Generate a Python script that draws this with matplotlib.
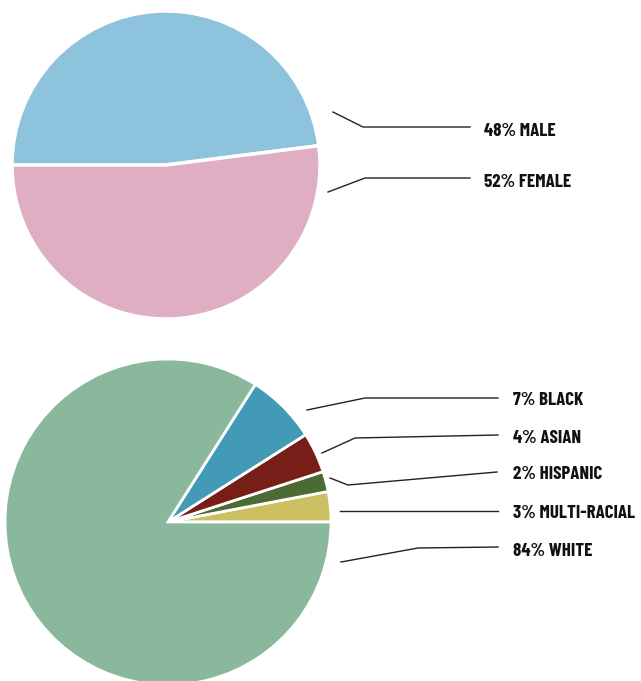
import matplotlib
matplotlib.use("Agg")
import matplotlib.pyplot as plt

W, H = 641, 681

# gender split
gender_labels = ["MALE", "FEMALE"]
gender_values = [48, 52]
gender_colors = ["#8dc3dc", "#e0aec3"]

# race split, counter-clockwise from 3 o'clock
race_labels = ["MULTI-RACIAL", "HISPANIC", "ASIAN", "BLACK", "WHITE"]
race_values = [3, 2, 4, 7, 84]
race_colors = ["#cbbf62", "#4b6a34", "#771e19", "#429ab7", "#8ab89c"]

font = {"family": ["Barlow Condensed", "DejaVu Sans"], "weight": "bold", "size": 13.6}


def flip(pts):
    # pixel coords (top-left origin) -> axes data coords
    return [p[0] for p in pts], [H - p[1] for p in pts]


fig = plt.figure(figsize=(W / 100, H / 100), dpi=100)
ax = fig.add_axes([0, 0, 1, 1])

ax.pie(gender_values, colors=gender_colors, startangle=180, counterclock=False,
       center=(166, H - 165), radius=154,
       wedgeprops={"edgecolor": "white", "linewidth": 2.5})
ax.pie(race_values, colors=race_colors, startangle=0, counterclock=True,
       center=(168, H - 522), radius=163,
       wedgeprops={"edgecolor": "white", "linewidth": 2})

# leader lines + labels (layout only)
gender_lines = [[(333, 112), (363, 127), (470, 127)],
                [(328, 192), (365, 178), (470, 178)]]
gender_base = [136, 187]
for lab, val, pts, yb in zip(gender_labels, gender_values, gender_lines, gender_base):
    xs, ys = flip(pts)
    ax.plot(xs, ys, color="#222222", lw=1)
    ax.text(484, H - yb, "%d%% %s" % (val, lab), ha="left", va="baseline", color="#111111", **font)

race_lines = [[(340, 511), (498, 511)],
              [(330, 478), (348, 485), (497, 472)],
              [(322, 453), (355, 438), (498, 435)],
              [(307, 410), (365, 398), (498, 398)],
              [(341, 562), (418, 548), (498, 547)]]
race_base = [518, 479, 443, 405, 556]
for lab, val, pts, yb in zip(race_labels, race_values, race_lines, race_base):
    xs, ys = flip(pts)
    ax.plot(xs, ys, color="#222222", lw=1)
    ax.text(513, H - yb, "%d%% %s" % (val, lab), ha="left", va="baseline", color="#111111", **font)

ax.set_xlim(0, W)
ax.set_ylim(0, H)
ax.set_aspect("equal")
ax.axis("off")

fig.savefig("out.png", dpi=100)
